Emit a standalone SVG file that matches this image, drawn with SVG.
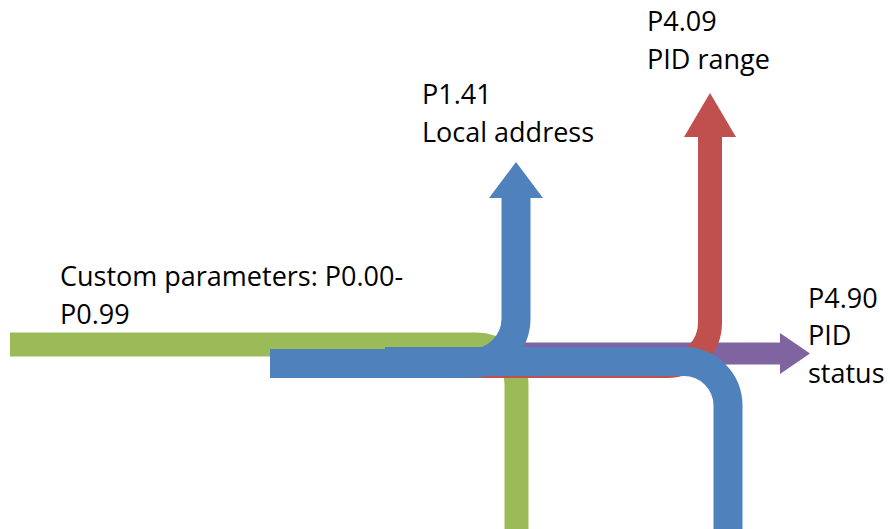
<svg xmlns="http://www.w3.org/2000/svg" width="890" height="529" viewBox="0 0 890 529">
<style>
.ln{fill:none;stroke-linecap:butt;stroke-linejoin:miter}
.t{font-family:"Open Sans","Liberation Sans",sans-serif;font-size:27px;fill:#000}
</style>
<rect width="890" height="529" fill="#fff"/>
<g id="connectors">
  <g id="green">
    <path class="ln" d="M10,344.5 H476 A40,40 0 0 1 516.5,384.5 V529" stroke="#9BBB59" stroke-width="24"/>
  </g>
  <g id="purple">
    <path class="ln" d="M500,353.5 H781" stroke="#8064A2" stroke-width="22"/>
    <polygon points="780,333 810,353.5 780,374" fill="#8064A2"/>
  </g>
  <g id="red">
    <path class="ln" d="M310,366 H667 A43,43 0 0 0 710,323 V136" stroke="#C0504D" stroke-width="24"/>
    <polygon points="684,137 710,93 736,137" fill="#C0504D"/>
  </g>
  <g id="blueA">
    <path class="ln" d="M270,363.5 H471 A45,45 0 0 0 516,318.5 V197" stroke="#4F81BD" stroke-width="29"/>
    <polygon points="489,198 516,162 543,198" fill="#4F81BD"/>
  </g>
  <g id="blueB">
    <path class="ln" d="M385,361.5 H684 A44,44 0 0 1 728,405.5 V529" stroke="#4F81BD" stroke-width="29"/>
  </g>
</g>
<g id="label-custom">
  <text class="t" x="60" y="286">Custom parameters: P0.00-</text>
  <text class="t" x="60" y="324">P0.99</text>
</g>
<g id="label-p141">
  <text class="t" x="422" y="104">P1.41</text>
  <text class="t" x="422" y="142">Local address</text>
</g>
<g id="label-p409">
  <text class="t" x="647" y="31">P4.09</text>
  <text class="t" x="647" y="69">PID range</text>
</g>
<g id="label-p490">
  <text class="t" x="808" y="308">P4.90</text>
  <text class="t" x="808" y="345">PID</text>
  <text class="t" x="808" y="383">status</text>
</g>
</svg>
